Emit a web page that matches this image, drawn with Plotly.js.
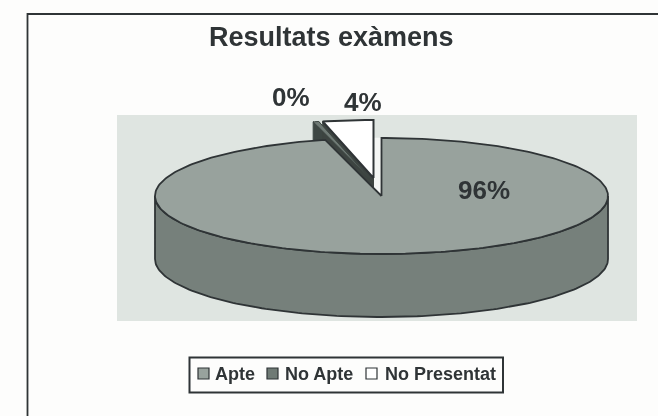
<!DOCTYPE html>
<html><head><meta charset="utf-8">
<script src="https://cdn.plot.ly/plotly-3.0.1.min.js"></script>
<style>html,body{margin:0;padding:0;background:#fdfdfc}#c{width:658px;height:416px;filter:blur(0.45px)}</style>
</head><body><div id="c"></div>
<script>
const categories = ['Apte', 'No Apte', 'No Presentat'];
const values = [96, 0.4, 3.6];
const labels = ['96%', '0%', '4%'];
const title = 'Resultats exàmens';

const topColors = ['#98a29d', '#6f7a75', '#ffffff'];
const sideColors = ['#76807b', '#3d4643', '#3d4441'];
const ink = '#2f3436';
const W = 658, H = 416;
const plot = {l:117, t:115, w:520, h:206};
const RX = 226.5, RY = 58, DEPTH = 63, CX = 381.5, CY = 196;
const EXPLODE = [[0,0], [-12,-18], [-8,-18]];
// units: 1 = pie x-radius
const ry = RY/RX, depth = DEPTH/RX;
const xr = [(plot.l-CX)/RX, (plot.l+plot.w-CX)/RX];
const yr = [(CY-plot.t-plot.h)/RX, (CY-plot.t)/RX];
const px = x => (x-plot.l)/plot.w;
const py = y => 1-(y-plot.t)/plot.h;

const total = values.reduce((a,b)=>a+b,0);
let acc = 0;
const slices = values.map(v => { const s = acc/total*2*Math.PI; acc += v; return {s, e: acc/total*2*Math.PI}; });
const pt = a => [Math.sin(a), ry*Math.cos(a)];
function arc(s,e){ const n=Math.max(4,Math.ceil((e-s)/0.02)); const o=[]; for(let i=0;i<=n;i++) o.push(pt(s+(e-s)*i/n)); return o; }

function poly(p, off, fill, line, w){
  const x = p.map(q=>q[0]+off[0]/RX), y = p.map(q=>q[1]-off[1]/RX);
  x.push(x[0]); y.push(y[0]);
  return {type:'scatter', mode:'lines', x, y, fill:'toself', fillcolor:fill,
          line:{color:line, width:w===undefined?1.8:w}, hoverinfo:'skip', showlegend:false};
}
const traces = [];
function cutFaces(i){
  const sl = slices[i], off = EXPLODE[i];
  const a = pt(sl.s), b = pt(sl.e);
  return [
    poly([[0,0],b,[b[0],b[1]-depth],[0,-depth]], off, sideColors[i], sideColors[i], 1),
    poly([[0,0],a,[a[0],a[1]-depth],[0,-depth]], off, sideColors[i], sideColors[i], 1)
  ];
}
// notch seen behind the exploded slices
traces.push(poly([[0,0],...arc(slices[0].e, 2*Math.PI)], EXPLODE[0], '#f4f6f4', '#f4f6f4', 0.5));
traces.push(...cutFaces(1));
traces.push(...cutFaces(2));

// main slice rim and top
const main = slices[0];
const rim = arc(Math.PI/2, 3*Math.PI/2);
const rimBack = rim.slice().reverse().map(q=>[q[0],q[1]-depth]);
traces.push(poly([...rim, ...rimBack], EXPLODE[0], sideColors[0], ink));
traces.push(poly([[0,0],...arc(main.s, main.e)], EXPLODE[0], topColors[0], ink));

// exploded tops
traces.push(poly([[0,0],...arc(slices[1].s, slices[1].e)], EXPLODE[1], topColors[1], sideColors[1], 1));
traces.push(poly([[0,0],...arc(slices[2].s, slices[2].e)], EXPLODE[2], topColors[2], ink, 2));

const labelPos = [[291,97],[363,102]];
const annotations = [
  {text:labels[0], xref:'paper', yref:'paper', x:px(484), y:py(190), xanchor:'center', yanchor:'middle', showarrow:false,
   font:{family:'Liberation Sans', size:26, weight:700, color:ink}},
  {text:labels[1], xref:'paper', yref:'paper', x:px(labelPos[0][0]), y:py(labelPos[0][1]), xanchor:'center', yanchor:'middle', showarrow:false,
   font:{family:'Liberation Sans', size:26, weight:700, color:ink}},
  {text:labels[2], xref:'paper', yref:'paper', x:px(labelPos[1][0]), y:py(labelPos[1][1]), xanchor:'center', yanchor:'middle', showarrow:false,
   font:{family:'Liberation Sans', size:26, weight:700, color:ink}},
  {text:title, xref:'paper', yref:'paper', x:px(331), y:py(37), xanchor:'center', yanchor:'middle', showarrow:false,
   font:{family:'Liberation Sans', size:27, weight:700, color:ink}}
];

const legendSw = [198, 267, 366], legendTx = [213, 283, 383];
const shapes = [
  {type:'rect', xref:'paper', yref:'paper', x0:px(27.5), x1:px(700), y0:py(14), y1:py(500), line:{color:ink,width:1.8}, fillcolor:'rgba(0,0,0,0)', layer:'below'},
  {type:'rect', xref:'paper', yref:'paper', x0:px(189.5), x1:px(503), y0:py(357.5), y1:py(392.5), line:{color:ink,width:2}, fillcolor:'#fdfdfc'}
];
categories.forEach((c,i)=>{
  shapes.push({type:'rect', xref:'paper', yref:'paper', x0:px(legendSw[i]), x1:px(legendSw[i]+11), y0:py(368), y1:py(379),
    line:{color:ink,width:1.2}, fillcolor:topColors[i]});
  annotations.push({text:c, xref:'paper', yref:'paper', x:px(legendTx[i]), y:py(374), xanchor:'left', yanchor:'middle',
    showarrow:false, font:{family:'Liberation Sans', size:18, weight:700, color:ink}});
});

const axis = {visible:false, fixedrange:true, showgrid:false, zeroline:false};
Plotly.newPlot('c', traces, {
  width:W, height:H, showlegend:false,
  paper_bgcolor:'#fdfdfc', plot_bgcolor:'#dfe5e1',
  margin:{l:plot.l, r:W-plot.l-plot.w, t:plot.t, b:H-plot.t-plot.h, pad:0},
  xaxis:{...axis, range:xr}, yaxis:{...axis, range:yr},
  shapes, annotations
}, {displayModeBar:false, staticPlot:true});
</script></body></html>
